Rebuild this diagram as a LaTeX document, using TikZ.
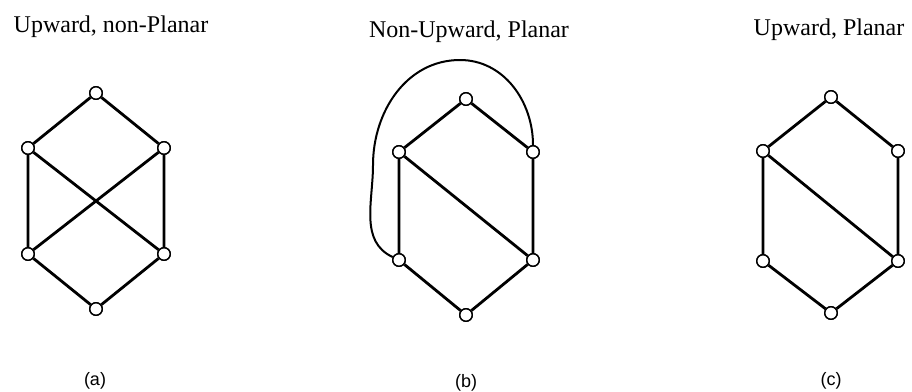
\documentclass[tikz,border=0pt]{standalone}
\usepackage{fontspec}
\setmainfont{Liberation Serif}
\newfontfamily\labfont{Liberation Sans}
\begin{document}
\begin{tikzpicture}[x=1pt,y=-1pt,
  vtx/.style={circle,draw=black,fill=white,line width=1.4pt,minimum size=12.5pt,inner sep=0pt},
  edge/.style={line width=2.8pt,black},
  loopedge/.style={line width=2pt,black},
  title/.style={font=\fontsize{24}{28}\selectfont,anchor=base,inner sep=0pt},
  sublabel/.style={font=\labfont\fontsize{18}{21}\selectfont,anchor=base,inner sep=0pt}]
\useasboundingbox[fill=white] (0,0) rectangle (912,391);

% titles
\node[title] (ta) at (111,32) {Upward, non-Planar};
\node[title] (tb) at (469,37) {Non-Upward, Planar};
\node[title] (tc) at (829,35) {Upward, Planar};

% sub labels
\node[sublabel] (la) at (95,385) {(a)};
\node[sublabel] (lb) at (466,387) {(b)};
\node[sublabel] (lc) at (831,385) {(c)};

% graph (a)
\node[vtx] (a1) at (96,93) {};
\node[vtx] (a2) at (28,148) {};
\node[vtx] (a3) at (164,148) {};
\node[vtx] (a4) at (28,254) {};
\node[vtx] (a5) at (164,254) {};
\node[vtx] (a6) at (96,309) {};
\begin{scope}[on background layer/.style={}]
\end{scope}
\draw[edge] (a1) -- (a2) (a1) -- (a3) (a2) -- (a4) (a3) -- (a5)
  (a2) -- (a5) (a3) -- (a4) (a4) -- (a6) (a5) -- (a6);

% graph (b)
\node[vtx] (b1) at (466,99) {};
\node[vtx] (b2) at (399,152) {};
\node[vtx] (b3) at (533,152) {};
\node[vtx] (b4) at (399,260) {};
\node[vtx] (b5) at (533,260) {};
\node[vtx] (b6) at (466,315) {};
\draw[edge] (b1) -- (b2) (b1) -- (b3) (b2) -- (b4) (b3) -- (b5)
  (b2) -- (b5) (b4) -- (b6) (b5) -- (b6);
\coordinate (bl) at (373,165);
\coordinate (bt) at (460,60);
\draw[loopedge] (b4) to[out=155,in=-90] (bl) to[out=90,in=180] (bt) to[out=0,in=90] (b3);

% graph (c)
\node[vtx] (c1) at (831,97) {};
\node[vtx] (c2) at (763,151) {};
\node[vtx] (c3) at (898,151) {};
\node[vtx] (c4) at (763,261) {};
\node[vtx] (c5) at (898,261) {};
\node[vtx] (c6) at (831,313) {};
\draw[edge] (c1) -- (c2) (c1) -- (c3) (c2) -- (c4) (c3) -- (c5)
  (c2) -- (c5) (c4) -- (c6) (c5) -- (c6);

% redraw vertices on top
\foreach \g in {a,b,c}{
  \foreach \i in {1,...,6}{
    \draw[line width=1.4pt,fill=white] (\g\i) circle (6.25pt);
  }
}
\end{tikzpicture}
\end{document}
